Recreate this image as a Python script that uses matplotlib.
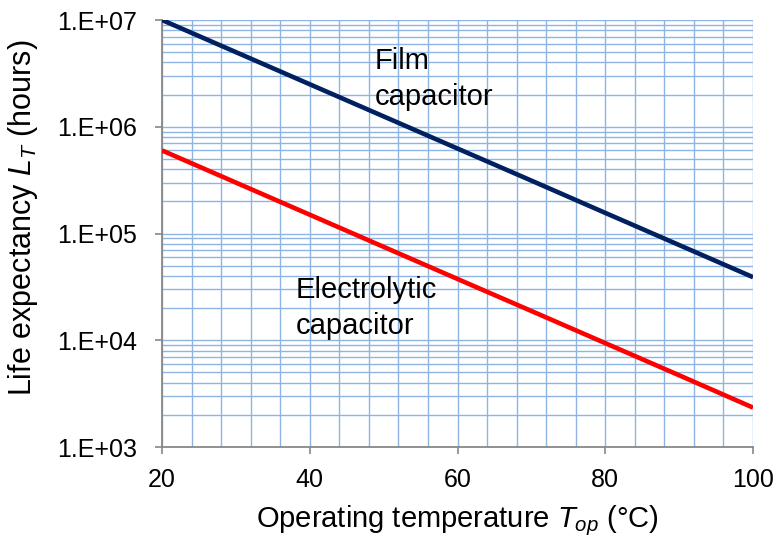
import math
import matplotlib
matplotlib.use("Agg")
import matplotlib.pyplot as plt
from matplotlib.ticker import FixedLocator, LogLocator, FuncFormatter, NullFormatter, MultipleLocator

plt.rcParams['font.family'] = ['Liberation Sans', 'DejaVu Sans']
plt.rcParams['mathtext.fontset'] = 'custom'
plt.rcParams['mathtext.it'] = 'Liberation Sans:italic'
plt.rcParams['mathtext.rm'] = 'Liberation Sans'

# Operating temperature (°C)
temperature = [20, 30, 40, 50, 60, 70, 80, 90, 100]
# Life expectancy (hours)
film_life = [1.0e7, 5.0e6, 2.5e6, 1.25e6, 6.25e5, 3.13e5, 1.56e5, 7.8e4, 3.9e4]
electrolytic_life = [6.0e5, 3.0e5, 1.5e5, 7.5e4, 3.75e4, 1.88e4, 9.4e3, 4.7e3, 2.34e3]

y_ticks = [1e3, 1e4, 1e5, 1e6, 1e7]
x_ticks = [20, 40, 60, 80, 100]

fig = plt.figure(figsize=(7.76, 5.38), dpi=100)
ax = fig.add_axes([0.2088, 0.1691, 0.7616, 0.7937])

grid_color = '#8DB4E2'
ax.set_yscale('log')
ax.set_xlim(20, 100)
ax.set_ylim(1e3, 1e7)

ax.plot(temperature, film_life, color='#002060', lw=3.3, solid_capstyle='butt', zorder=3)
ax.plot(temperature, electrolytic_life, color='#FF0000', lw=3.3, solid_capstyle='butt', zorder=3)

ax.xaxis.set_major_locator(FixedLocator(x_ticks))
ax.xaxis.set_minor_locator(MultipleLocator(4))
ax.yaxis.set_major_locator(FixedLocator(y_ticks))
ax.yaxis.set_minor_locator(LogLocator(base=10, subs=range(2, 10), numticks=20))
ax.yaxis.set_minor_formatter(NullFormatter())
ax.yaxis.set_major_formatter(FuncFormatter(lambda v, p: "1.E+%02d" % round(math.log10(v))))

ax.grid(True, which='both', axis='both', color=grid_color, lw=1.0, zorder=1)
ax.set_axisbelow(True)

for side in ['top', 'right']:
    ax.spines[side].set_visible(False)
for side in ['left', 'bottom']:
    ax.spines[side].set_color('#888888')
    ax.spines[side].set_linewidth(1.3)

ax.tick_params(axis='both', which='major', direction='out', length=5, width=1.2,
               color='#888888', labelsize=18)
ax.tick_params(axis='y', which='major', pad=13)
ax.tick_params(axis='x', which='major', pad=10)
ax.tick_params(axis='both', which='minor', length=0)

ax.set_xlabel("Operating temperature $T_{op}$ (°C)", fontsize=21)
ax.set_ylabel("Life expectancy $L_T$ (hours)", fontsize=22)
ax.xaxis.set_label_coords(0.5, -0.133)
ax.yaxis.set_label_coords(-0.206, 0.537)

ax.text(48.8, 5.58e6, "Film\ncapacitor", fontsize=21, va='top', ha='left', linespacing=1.35)
ax.text(38.1, 4.0e4, "Electrolytic\ncapacitor", fontsize=21, va='top', ha='left', linespacing=1.35)

fig.savefig("out.png", dpi=100)
